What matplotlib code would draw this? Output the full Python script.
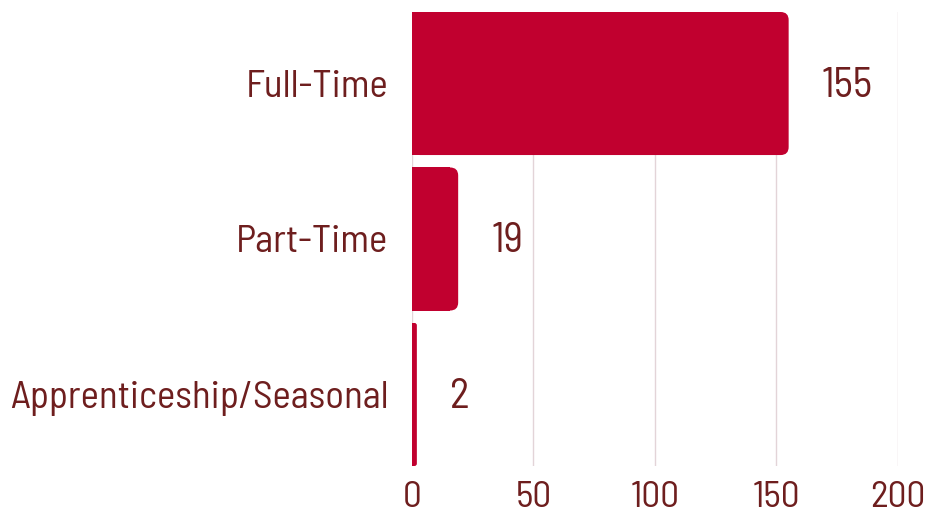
import matplotlib
matplotlib.use("Agg")
import matplotlib.pyplot as plt
from matplotlib.patches import FancyBboxPatch

categories = ["Full-Time", "Part-Time", "Apprenticeship/Seasonal"]
values = [155, 19, 2]
xticks = [0, 50, 100, 150, 200]

plt.rcParams["font.family"] = ["Barlow Semi Condensed", "Roboto Condensed", "DejaVu Sans"]
plt.rcParams["font.weight"] = 400

BAR = "#C1002F"
TXT = "#6E1E1E"
GRID = "#E3D4D8"

fig = plt.figure(figsize=(9.29, 5.19), dpi=100)
ax = fig.add_axes([412/929, 1-466/519, (898-412)/929, (466-12)/519])

ypos = list(range(len(categories)))
bars = ax.barh(ypos, values, height=0.92, color=BAR, zorder=3)
ax.set_xlim(0, 200)
ax.set_ylim(len(categories) - 0.54, -0.46)

# rounded right ends
px_per_x = (898-412) / 200
px_per_y = (466-12) / (len(categories) - 0.08)
r_px = 8
for rect in bars.patches:
    x, y = rect.get_x(), rect.get_y()
    w, h = rect.get_width(), rect.get_height()
    r = min(r_px / px_per_x, w / 2)
    aspect = (r_px / px_per_y) / (r_px / px_per_x)
    fb = FancyBboxPatch((x, y), w, h, boxstyle=f"round,pad=0,rounding_size={r}",
                        mutation_aspect=aspect, facecolor=BAR, edgecolor="none", zorder=3)
    ax.add_patch(fb)
    rect.set_width(max(w - r, 0))

for yv, v in zip(ypos, values):
    ax.annotate(str(v), (v, yv), xytext=(24, -2), textcoords="offset points",
                ha="left", va="center", fontsize=30, color=TXT)

ax.set_yticks(ypos)
ax.set_yticklabels(categories, fontsize=28, color=TXT)
ax.set_xticks(xticks)
ax.set_xticklabels([str(t) for t in xticks], fontsize=27, color=TXT)
ax.tick_params(axis="both", length=0)
ax.tick_params(axis="y", pad=17)
ax.tick_params(axis="x", pad=11)
for s in ax.spines.values():
    s.set_visible(False)
ax.grid(axis="x", color=GRID, linewidth=1, zorder=0)
ax.set_axisbelow(True)

fig.savefig("out.png", dpi=100)
